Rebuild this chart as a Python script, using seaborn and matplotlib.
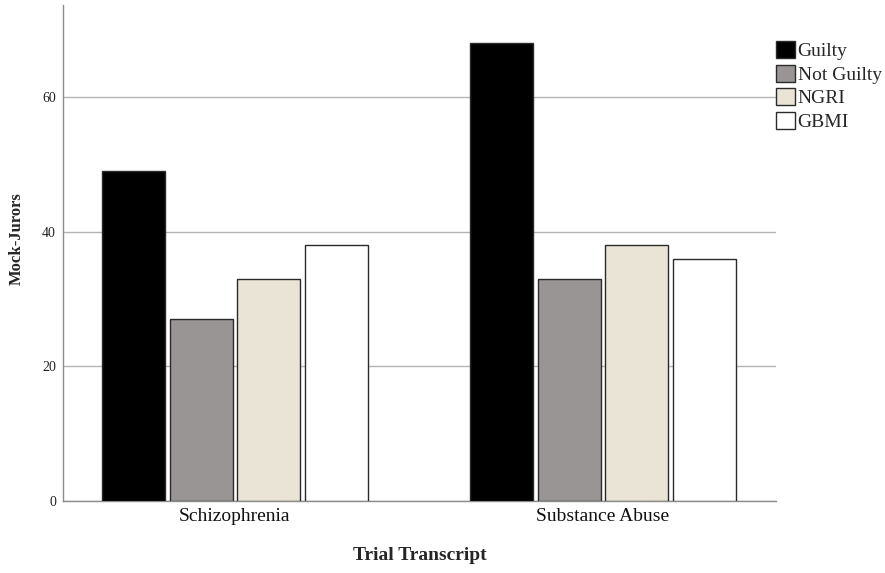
import matplotlib
matplotlib.use("Agg")
import matplotlib.pyplot as plt
import seaborn as sns
import pandas as pd

categories = ["Schizophrenia", "Substance Abuse"]
verdicts = ["Guilty", "Not Guilty", "NGRI", "GBMI"]
schizophrenia_counts = [49, 27, 33, 38]
substance_counts = [68, 33, 38, 36]
colors = ["#000000", "#999593", "#ece6d2", "#ffffff"]

rows = []
for cat, vals in zip(categories, [schizophrenia_counts, substance_counts]):
    for v, c in zip(verdicts, vals):
        rows.append({"Trial Transcript": cat, "Verdict": v, "Count": c})
df = pd.DataFrame(rows)

sns.set_theme(style="white")
plt.rcParams["font.family"] = ["Liberation Serif", "DejaVu Serif"]

fig = plt.figure(figsize=(8.85, 5.73), dpi=100)
ax = fig.add_axes([0.0712, 0.1257, 0.8056, 0.8656])

sns.barplot(data=df, x="Trial Transcript", y="Count", hue="Verdict",
            hue_order=verdicts, palette=colors, width=0.736, gap=0.07,
            edgecolor="#2a2a2a", linewidth=1.0, ax=ax, legend=True, zorder=3)

ax.set_xlim(-0.467, 1.470)
ax.set_ylim(0, 73.7)
ax.set_yticks([0, 20, 40, 60])
ax.yaxis.grid(True, color="#b4b4b4", linewidth=1.0, zorder=0)
ax.set_axisbelow(True)
for s in ["top", "right"]:
    ax.spines[s].set_visible(False)
for s in ["left", "bottom"]:
    ax.spines[s].set_color("#8c8c8c")
    ax.spines[s].set_linewidth(1.0)
ax.tick_params(axis="y", labelsize=10, length=0, pad=5, colors="#222222")
ax.tick_params(axis="x", labelsize=14, length=0, pad=5, colors="#111111")
ax.set_xlabel("Trial Transcript", fontsize=14, fontweight="bold", labelpad=16)
ax.set_ylabel("Mock-Jurors", fontsize=12, fontweight="bold")
ax.yaxis.set_label_coords(-0.053, 0.528)

handles, labels = ax.get_legend_handles_labels()
ax.legend(handles, labels, loc="upper left", bbox_to_anchor=(0.877, 0.928),
          bbox_transform=fig.transFigure, frameon=False, fontsize=14,
          handlelength=0.95, handleheight=0.95, handletextpad=0.15,
          labelspacing=0.23, borderpad=0, borderaxespad=0)

fig.savefig("out.png", dpi=100)
